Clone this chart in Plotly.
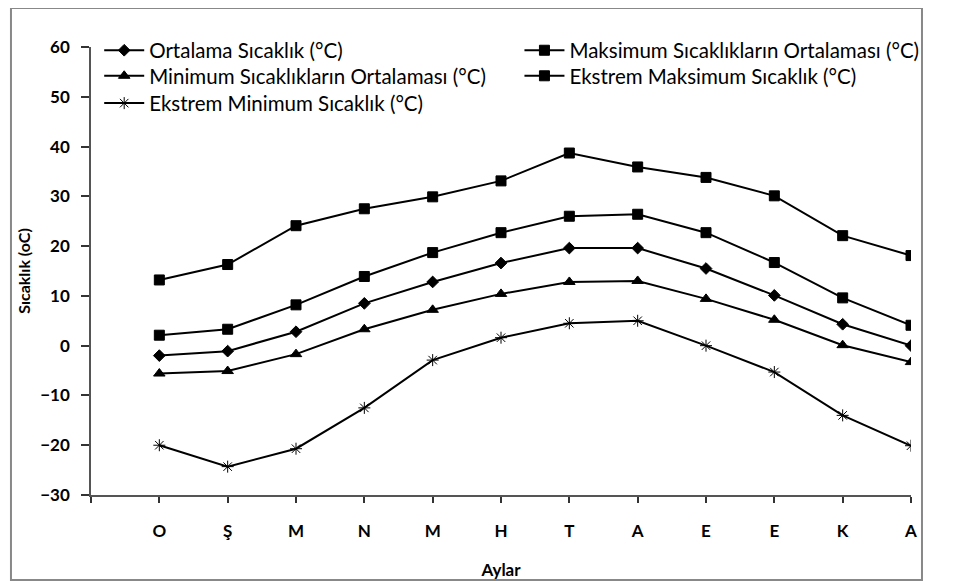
import plotly.graph_objects as go

months = ["O", "Ş", "M", "N", "M", "H", "T", "A", "E", "E", "K", "A"]
ortalama = [-2.0, -1.1, 2.8, 8.5, 12.8, 16.6, 19.6, 19.6, 15.5, 10.1, 4.3, 0.0]
maks_ort = [2.1, 3.3, 8.2, 13.9, 18.7, 22.7, 26.0, 26.4, 22.7, 16.7, 9.6, 4.1]
min_ort = [-5.6, -5.1, -1.7, 3.3, 7.2, 10.4, 12.8, 13.0, 9.4, 5.2, 0.1, -3.3]
eks_maks = [13.2, 16.3, 24.1, 27.5, 29.9, 33.1, 38.7, 35.9, 33.8, 30.1, 22.1, 18.1]
eks_min = [-20.0, -24.3, -20.7, -12.5, -2.9, 1.6, 4.5, 5.0, 0.0, -5.3, -14.0, -20.1]

names = [
    "Ortalama Sıcaklık (°C)",
    "Maksimum Sıcaklıkların Ortalaması (°C)",
    "Minimum Sıcaklıkların Ortalaması (°C)",
    "Ekstrem Maksimum Sıcaklık (°C)",
    "Ekstrem Minimum Sıcaklık (°C)",
]
series = [ortalama, maks_ort, min_ort, eks_maks, eks_min]
symbols = ["diamond", "square", "triangle-up", "square", "asterisk-open"]
sizes = [9, 10, 10, 10, 10]
legend_ids = ["legend", "legend2", "legend3", "legend4", "legend5"]

xpos = list(range(1, len(months) + 1))

FONT = "Lato"

fig = go.Figure()
for nm, ys, sym, sz, lg in zip(names, series, symbols, sizes, legend_ids):
    fig.add_trace(go.Scatter(
        x=xpos, y=ys, name=nm, mode="lines+markers", legend=lg,
        line=dict(color="black", width=2),
        marker=dict(symbol=sym, size=sz, color="black",
                    line=dict(color="black", width=1)),
    ))

leg_common = dict(
    orientation="v", xanchor="left", yanchor="top",
    font=dict(size=20.5, family=FONT, color="black"),
    bgcolor="rgba(0,0,0,0)", itemwidth=40, tracegroupgap=0,
)
col1, col2 = 0.01, 0.5225
row1, row2, row3 = 1.037, 0.980, 0.919

fig.update_layout(
    width=962, height=581,
    margin=dict(l=83, r=59, t=39, b=94),
    paper_bgcolor="white", plot_bgcolor="white",
    font=dict(family=FONT, color="black"),
    showlegend=True,
    legend=dict(x=col1, y=row1, **leg_common),
    legend2=dict(x=col2, y=row1, **leg_common),
    legend3=dict(x=col1, y=row2, **leg_common),
    legend4=dict(x=col2, y=row2, **leg_common),
    legend5=dict(x=col1, y=row3, **leg_common),
    xaxis=dict(
        range=[0, 12], tickmode="array",
        tickvals=list(range(0, 13)), ticktext=[""] + months,
        showgrid=False, zeroline=False,
        showline=True, linecolor="#555", linewidth=1.5,
        ticks="outside", ticklen=6, tickcolor="#333", tickwidth=1.5,
        ticklabelstandoff=14,
        tickfont=dict(size=17, family=FONT, weight="bold"),
        title=dict(text="<b>Aylar</b>", font=dict(size=17, family=FONT), standoff=24),
    ),
    yaxis=dict(
        range=[-30, 60], tickmode="array", tickvals=list(range(-30, 61, 10)),
        showgrid=False, zeroline=False,
        showline=True, linecolor="#555", linewidth=1.5,
        ticks="outside", ticklen=8, tickcolor="#333", tickwidth=1.5,
        ticklabelstandoff=8,
        tickfont=dict(size=17, family=FONT, weight="bold"),
        title=dict(text="<b>Sıcaklık (oC)</b>", font=dict(size=16, family=FONT), standoff=6),
    ),
    shapes=[dict(type="rect", xref="paper", yref="paper",
                 x0=-0.0976, x1=1.0134, y0=-0.19, y1=1.087,
                 line=dict(color="#888", width=2), fillcolor="rgba(0,0,0,0)",
                 layer="below")],
)

fig.write_html("out.html")
